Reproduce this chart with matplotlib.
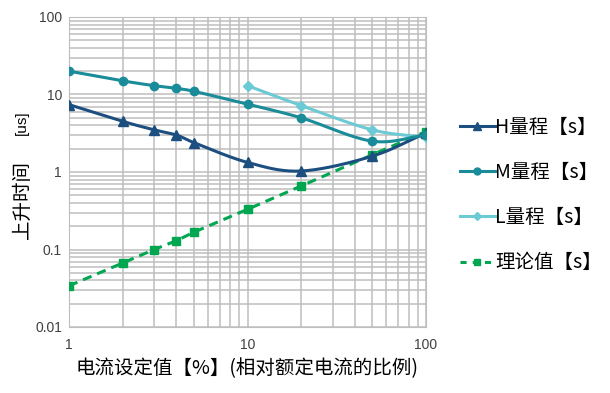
import numpy as np
import matplotlib
matplotlib.use("Agg")
import matplotlib.pyplot as plt
from matplotlib.ticker import LogLocator, FixedLocator, NullFormatter, FixedFormatter

plt.rcParams['font.family'] = ['Noto Sans CJK SC', 'DejaVu Sans']

x_all = [1, 2, 3, 4, 5, 10, 20, 50, 100]
h_vals = [7.4, 4.5, 3.5, 3.0, 2.4, 1.33, 1.03, 1.6, 3.2]
m_vals = [20, 15, 13, 12, 11, 7.5, 5.0, 2.5, 3.0]
x_l = [10, 20, 50, 100]
l_vals = [13, 7.2, 3.5, 2.8]
theory_vals = [0.034, 0.067, 0.1, 0.13, 0.167, 0.33, 0.66, 1.67, 3.33]

labels = ['H量程【s】', 'M量程【s】', 'L量程【s】', '理论值【s】']
xticks = [1, 10, 100]
xtick_labels = ['1', '10', '100']
yticks = [0.01, 0.1, 1, 10, 100]
ytick_labels = ['0.01', '0.1', '1', '10', '100']

c_h = '#1c4f7f'
c_m = '#1a8c99'
c_l = '#6ccad4'
c_t = '#00a650'


def smooth(xs, ys, n=20):
    # Catmull-Rom smoothing in log space (rendering only)
    lx = np.log10(xs)
    ly = np.log10(ys)
    px = np.concatenate([[2 * lx[0] - lx[1]], lx, [2 * lx[-1] - lx[-2]]])
    py = np.concatenate([[2 * ly[0] - ly[1]], ly, [2 * ly[-1] - ly[-2]]])
    ox, oy = [], []
    for i in range(1, len(px) - 2):
        t = np.linspace(0, 1, n, endpoint=False)
        for arr, out in ((px, ox), (py, oy)):
            p0, p1, p2, p3 = arr[i - 1], arr[i], arr[i + 1], arr[i + 2]
            v = 0.5 * ((2 * p1) + (-p0 + p2) * t + (2 * p0 - 5 * p1 + 4 * p2 - p3) * t ** 2
                       + (-p0 + 3 * p1 - 3 * p2 + p3) * t ** 3)
            out.extend(v)
    ox.append(lx[-1]); oy.append(ly[-1])
    return 10 ** np.array(ox), 10 ** np.array(oy)


fig = plt.figure(figsize=(6.10, 3.93), dpi=100)
ax = fig.add_axes([69 / 610, 66 / 393, (426 - 69) / 610, (327 - 17) / 393])
ax.set_xscale('log')
ax.set_yscale('log')
ax.set_xlim(1, 100)
ax.set_ylim(0.01, 100)

ax.grid(True, which='both', color='#bebebe', linewidth=1.1)
ax.set_axisbelow(True)
for s in ax.spines.values():
    s.set_color('#bebebe')
ax.tick_params(which='both', length=0, labelsize=10, colors='#404040')
ax.xaxis.set_major_locator(FixedLocator(xticks))
ax.xaxis.set_major_formatter(FixedFormatter(xtick_labels))
ax.yaxis.set_major_locator(FixedLocator(yticks))
ax.yaxis.set_major_formatter(FixedFormatter(ytick_labels))
ax.xaxis.set_minor_locator(LogLocator(base=10, subs=np.arange(2, 10)))
ax.yaxis.set_minor_locator(LogLocator(base=10, subs=np.arange(2, 10)))
ax.xaxis.set_minor_formatter(NullFormatter())
ax.yaxis.set_minor_formatter(NullFormatter())
for lab in ax.get_xticklabels() + ax.get_yticklabels():
    lab.set_family(['Liberation Sans', 'DejaVu Sans'])
ax.tick_params(axis='x', pad=8)
ax.tick_params(axis='y', pad=5)

sx, sy = smooth(x_all, h_vals)
ax.plot(sx, sy, color=c_h, lw=2.2, zorder=4)
ax.plot(x_all, h_vals, ls='none', marker='^', ms=7, color=c_h, zorder=5)
sx, sy = smooth(x_all, m_vals)
ax.plot(sx, sy, color=c_m, lw=2.2, zorder=4)
ax.plot(x_all, m_vals, ls='none', marker='o', ms=6, color=c_m, zorder=5)
sx, sy = smooth(x_l, l_vals)
ax.plot(sx, sy, color=c_l, lw=2.2, zorder=3)
ax.plot(x_l, l_vals, ls='none', marker='D', ms=5.5, color=c_l, zorder=3)
ax.plot(x_all, theory_vals, color=c_t, lw=2.2, ls=(0, (3, 2)), marker='s', ms=5.5, zorder=3)

handles = [
    plt.Line2D([], [], color=c_h, lw=2.2, marker='^', ms=6),
    plt.Line2D([], [], color=c_m, lw=2.2, marker='o', ms=5),
    plt.Line2D([], [], color=c_l, lw=2.2, marker='D', ms=4.5),
    plt.Line2D([], [], color=c_t, lw=2.2, ls=(0, (2, 2)), marker='s', ms=4.5),
]
fig.legend(handles, labels, loc='upper left', bbox_to_anchor=(442 / 610, 1 - 99 / 393),
           frameon=False, fontsize=14, handlelength=1.8, handletextpad=0.05,
           labelspacing=1.25)

ax.set_xlabel('电流设定值【%】(相对额定电流的比例)', fontsize=14, labelpad=4)
fig.text(22 / 610, 1 - 123 / 393, '[us]', rotation=90, ha='center', va='center',
         fontsize=11, family=['Liberation Sans', 'DejaVu Sans'])
fig.text(22 / 610, 1 - 200 / 393, '上升时间', rotation=90, ha='center', va='center',
         fontsize=14)

fig.savefig('out.png', dpi=100)
